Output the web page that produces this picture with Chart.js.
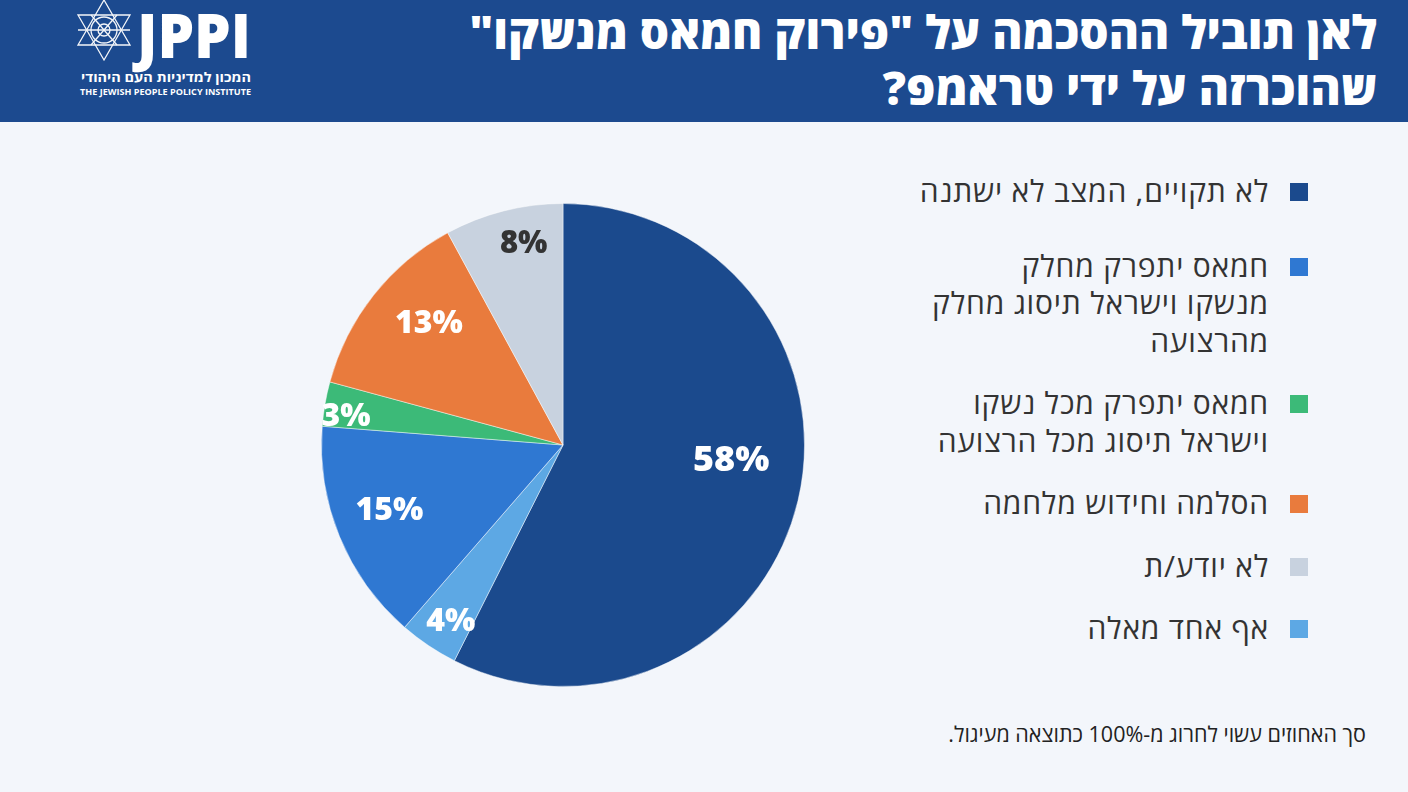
<!DOCTYPE html>
<html lang="he">
<head>
<meta charset="utf-8">
<script src="https://cdn.jsdelivr.net/npm/chart.js@4.4.1/dist/chart.umd.min.js"></script>
<style>
  html, body { margin:0; padding:0; }
  body { width:1408px; height:792px; background:#f3f6fb; position:relative; overflow:hidden; font-family:"Open Sans","Noto Sans","DejaVu Sans",sans-serif; }
  #header { position:absolute; left:0; top:0; width:1408px; height:122px; background:#1c4a8f; }
  #title { position:absolute; right:31px; top:3px; direction:rtl; text-align:right; color:#fff; font-weight:800; font-size:46px; line-height:56px; white-space:nowrap; }
  #logo { position:absolute; left:0; top:0; }
  #chartWrap { position:absolute; left:311px; top:193px; width:504px; height:504px; }
  #legend { position:absolute; right:100px; top:172px; width:480px; direction:rtl; }
  .item { display:flex; flex-direction:row; align-items:flex-start; margin-bottom:25px; }
  .sw { width:18px; height:18px; margin-top:11px; margin-left:21px; flex:none; }
  .txt { font-size:30px; letter-spacing:0.8px; line-height:37.5px; color:#333; text-align:right; white-space:nowrap; }
  #note { position:absolute; right:42px; top:719px; direction:rtl; font-size:21.5px; color:#222; white-space:nowrap; }
</style>
</head>
<body>
<div id="header">
  <svg id="logo" width="270" height="121" viewBox="0 0 270 121">
    <g stroke="#fff" stroke-width="1.3" fill="none" opacity="0.95">
      <polygon points="104,0 78,45 130,45"/>
      <polygon points="104,60 78,15 130,15"/>
      <circle cx="104" cy="30" r="13"/>
      <circle cx="104" cy="30" r="6"/>
      <line x1="91" y1="15" x2="117" y2="45"/>
      <line x1="117" y1="15" x2="91" y2="45"/>
      <line x1="78" y1="30" x2="130" y2="30"/>
    </g>
    <text x="137" y="58" fill="#fff" font-family="'Open Sans', Lato, sans-serif" font-weight="800" font-size="62" textLength="114" lengthAdjust="spacingAndGlyphs">JPPI</text>
    <text x="251" y="82" fill="#fff" direction="rtl" text-anchor="start" font-family="'Open Sans','DejaVu Sans',sans-serif" font-weight="700" font-size="13" textLength="170" lengthAdjust="spacingAndGlyphs">המכון למדיניות העם היהודי</text>
    <text x="80" y="95" fill="#fff" font-family="'Open Sans','DejaVu Sans',sans-serif" font-weight="700" font-size="9.5" textLength="171" lengthAdjust="spacingAndGlyphs">THE JEWISH PEOPLE POLICY INSTITUTE</text>
  </svg>
  <div id="title">לאן תוביל ההסכמה על "פירוק חמאס מנשקו"<br>שהוכרזה על ידי טראמפ?</div>
</div>
<div id="chartWrap"><canvas id="pie"></canvas></div>
<div id="legend"></div>
<div id="note">סך האחוזים עשוי לחרוג מ-100% כתוצאה מעיגול.</div>
<script>
// ---- data (slice order: clockwise from 12 o'clock) ----
const categories = [
  ["לא תקויים, המצב לא ישתנה"],
  ["אף אחד מאלה"],
  ["חמאס יתפרק מחלק", "מנשקו וישראל תיסוג מחלק", "מהרצועה"],
  ["חמאס יתפרק מכל נשקו", "וישראל תיסוג מכל הרצועה"],
  ["הסלמה וחידוש מלחמה"],
  ["לא יודע/ת"]
];
const values = [58, 4, 15, 3, 13, 8];
const legendOrder = [0, 2, 3, 4, 5, 1];

// ---- styling ----
const colors = ["#1b4a8d", "#5da8e4", "#2f78d2", "#3cba78", "#e97b3d", "#c8d2df"];
const labelColors = ["#ffffff", "#ffffff", "#ffffff", "#ffffff", "#ffffff", "#333333"];
const labelRadius = [0.699, 0.863, 0.767, 0.907, 0.750, 0.853];
const labelAngleShift = [-8.3, -1.3, 1.9, -2.1, 3.9, 3.25];
const labelSize = [36, 32, 32, 32, 32, 31];

const sliceLabels = {
  id: 'sliceLabels',
  afterDatasetsDraw(chart) {
    const ctx = chart.ctx;
    const meta = chart.getDatasetMeta(0);
    ctx.save();
    ctx.textAlign = 'center';
    ctx.textBaseline = 'middle';
    meta.data.forEach((arc, i) => {
      const p = arc.getProps(['x','y','startAngle','endAngle','outerRadius'], true);
      const mid = (p.startAngle + p.endAngle) / 2 + labelAngleShift[i] * Math.PI / 180;
      const r = p.outerRadius * labelRadius[i];
      ctx.font = '800 ' + labelSize[i] + 'px "Open Sans", Lato, sans-serif';
      ctx.fillStyle = labelColors[i];
      ctx.fillText(values[i] + '%', p.x + Math.cos(mid) * r, p.y + Math.sin(mid) * r + 1);
    });
    ctx.restore();
  }
};

new Chart(document.getElementById('pie'), {
  type: 'pie',
  data: {
    labels: categories.map(c => c.join(' ')),
    datasets: [{
      data: values,
      backgroundColor: colors,
      borderColor: 'rgba(255,255,255,0.45)',
      borderWidth: 1
    }]
  },
  options: {
    responsive: true,
    maintainAspectRatio: false,
    animation: false,
    layout: { padding: 10 },
    plugins: { legend: { display: false }, tooltip: { enabled: false } }
  },
  plugins: [sliceLabels]
});

// ---- HTML legend built from the arrays ----
const legend = document.getElementById('legend');
legendOrder.forEach((idx, k) => {
  const item = document.createElement('div');
  item.className = 'item';
  if (k === 0) item.style.marginBottom = '37px';
  const sw = document.createElement('div');
  sw.className = 'sw';
  sw.style.background = colors[idx];
  const txt = document.createElement('div');
  txt.className = 'txt';
  txt.innerHTML = categories[idx].join('<br>');
  item.appendChild(sw);
  item.appendChild(txt);
  legend.appendChild(item);
});
</script>
</body>
</html>
